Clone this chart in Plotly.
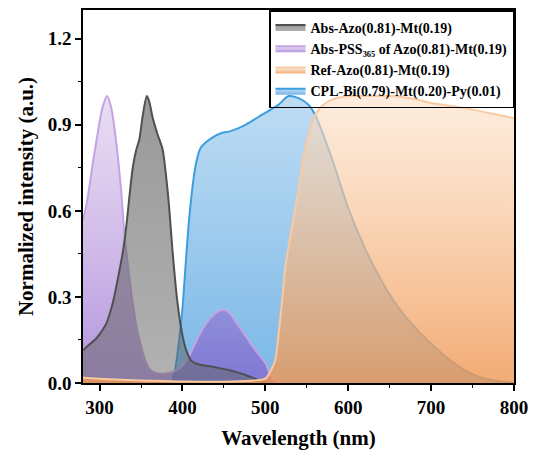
import plotly.graph_objects as go

# Abs-Azo(0.81)-Mt(0.19) absorption
wl_abs = [280, 288, 296, 302, 308, 316, 322, 328, 332, 336, 340, 344, 348, 352, 357,
          360, 364, 370, 376, 380, 384, 388, 394, 400, 405, 410, 416, 424, 436, 446,
          456, 466, 476, 488, 496, 504]
abs_azo = [0.114, 0.135, 0.155, 0.178, 0.207, 0.28, 0.363, 0.455, 0.54, 0.65, 0.75, 0.81,
           0.85, 0.93, 1.0, 0.98, 0.925, 0.866, 0.815, 0.727, 0.61, 0.46, 0.28, 0.166,
           0.11, 0.08, 0.068, 0.062, 0.057, 0.051, 0.045, 0.037, 0.028, 0.014, 0.005, 0.0]

# Abs-PSS365 of Azo(0.81)-Mt(0.19)
wl_pss = [280, 284, 288, 292, 296, 300, 304, 309, 314, 320, 326, 330, 335, 340, 345, 350,
          355, 360, 366, 372, 380, 390, 400, 408, 414, 420, 428, 434, 442, 450, 458, 464,
          470, 476, 484, 492, 500, 506, 512, 520]
abs_pss = [0.57, 0.62, 0.69, 0.77, 0.84, 0.91, 0.965, 1.0, 0.96, 0.84, 0.67, 0.52, 0.39,
           0.28, 0.19, 0.13, 0.08, 0.05, 0.037, 0.033, 0.033, 0.04, 0.06, 0.095, 0.13,
           0.166, 0.205, 0.227, 0.248, 0.255, 0.24, 0.215, 0.19, 0.165, 0.13, 0.10, 0.07,
           0.03, 0.01, 0.0]

# Ref-Azo(0.81)-Mt(0.19) reflectance
wl_ref = [280, 300, 320, 360, 400, 460, 490, 500, 506, 512, 516, 520, 524, 530, 540, 548,
          560, 570, 580, 600, 620, 652, 680, 700, 740, 780, 800]
ref_azo = [0.018, 0.015, 0.012, 0.008, 0.005, 0.005, 0.01, 0.015, 0.04, 0.08, 0.17, 0.28,
           0.40, 0.51, 0.67, 0.82, 0.935, 0.97, 0.987, 1.0, 1.0, 1.0, 0.99, 0.976, 0.958,
           0.935, 0.923]

# CPL-Bi(0.79)-Mt(0.20)-Py(0.01) emission
wl_cpl = [388, 392, 396, 400, 404, 408, 412, 416, 422, 436, 448, 458, 476, 496, 516, 528,
          540, 552, 560, 580, 600, 620, 640, 660, 680, 700, 720, 740, 764, 800]
cpl = [0.0, 0.06, 0.15, 0.26, 0.42, 0.57, 0.68, 0.76, 0.82, 0.855, 0.872, 0.878, 0.90,
       0.935, 0.97, 1.0, 0.993, 0.97, 0.935, 0.785, 0.61, 0.47, 0.357, 0.265, 0.195,
       0.137, 0.086, 0.045, 0.016, 0.0]

x_ticks = [300, 400, 500, 600, 700, 800]
y_ticks = [0.0, 0.3, 0.6, 0.9, 1.2]

FONT = "Liberation Serif"


def band(x, y, name, line_color, bottom, top, rank):
    return go.Scatter(
        x=x, y=y, name=name, mode="lines", fill="tozeroy",
        line=dict(color=line_color, width=2, shape="spline", smoothing=0.8),
        fillgradient=dict(type="vertical", colorscale=[[0, bottom], [1, top]]),
        legendrank=rank,
    )


fig = go.Figure()
fig.add_trace(band(wl_cpl, cpl, "CPL-Bi(0.79)-Mt(0.20)-Py(0.01)", "#3c9ee0",
                   "rgba(60,150,220,0.68)", "rgba(60,150,220,0.33)", 4))
fig.add_trace(band(wl_pss, abs_pss, "Abs-PSS₃₆₅ of Azo(0.81)-Mt(0.19)", "#c3a3e3",
                   "rgba(130,80,200,0.62)", "rgba(200,170,225,0.4)", 2))
fig.add_trace(band(wl_abs, abs_azo, "Abs-Azo(0.81)-Mt(0.19)", "#505050",
                   "rgba(100,100,100,0.5)", "rgba(85,85,85,0.6)", 1))
fig.add_trace(band(wl_ref, ref_azo, "Ref-Azo(0.81)-Mt(0.19)", "#f9c9a2",
                   "rgba(240,150,80,0.8)", "rgba(252,225,200,0.6)", 3))

axis_common = dict(
    showline=True, linecolor="black", linewidth=1.5, mirror=True,
    ticks="outside", ticklen=6, tickwidth=1.5, tickcolor="black",
    showgrid=False, zeroline=False,
    tickfont=dict(family=FONT, size=19, color="black", weight="bold"),
)

fig.update_xaxes(
    range=[280, 800], tickvals=x_ticks,
    minor=dict(ticks="outside", ticklen=3, tickwidth=1.2, tickcolor="black", dtick=50),
    title=dict(text="Wavelength (nm)", standoff=14,
               font=dict(family=FONT, size=21, color="black", weight="bold")),
    **axis_common,
)
fig.update_yaxes(
    range=[0, 1.3], tickvals=y_ticks, tickformat=".1f",
    minor=dict(ticks="outside", ticklen=3, tickwidth=1.2, tickcolor="black", dtick=0.15),
    title=dict(text="Normalized intensity (a.u.)", standoff=8,
               font=dict(family=FONT, size=21, color="black", weight="bold")),
    **axis_common,
)

fig.update_layout(
    width=536, height=456,
    margin=dict(l=83, r=19, t=8, b=73),
    paper_bgcolor="white", plot_bgcolor="white",
    font=dict(family=FONT, color="black", weight="bold"),
    legend=dict(
        x=1, y=1, xanchor="right", yanchor="top",
        bgcolor="rgba(255,255,255,0)", bordercolor="black", borderwidth=1.5,
        font=dict(family=FONT, size=14, color="black", weight="bold"),
        tracegroupgap=0, itemwidth=30,
    ),
    showlegend=True,
)

fig.write_html("out.html")
